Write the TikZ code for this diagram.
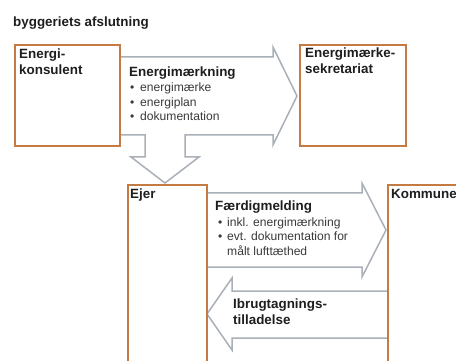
\documentclass[tikz,border=0pt]{standalone}
\usepackage{fontspec}
\setmainfont{Liberation Sans}
\definecolor{boxor}{HTML}{C57A42}
\definecolor{arrgr}{HTML}{A9B0B8}
\definecolor{headtxt}{HTML}{1E1E1E}
\definecolor{itemtxt}{HTML}{3A3A3A}
\begin{document}
\begin{tikzpicture}[x=1pt,y=-1pt,
  box/.style={draw=boxor,line width=2pt,fill=white,anchor=north west,inner sep=0pt},
  blk/.style={draw=arrgr,line width=1.5pt,fill=white,line join=miter},
  head/.style={font=\fontsize{13.4}{16}\bfseries\selectfont,text=headtxt,anchor=base west,inner sep=0pt},
  item/.style={font=\fontsize{12.1}{14}\selectfont,text=itemtxt,anchor=base west,inner sep=0pt}]
\useasboundingbox (0,0) rectangle (456,361);
\begin{scope}
\clip (0,0) rectangle (456,361);
% block arrows
\draw[blk] (119,57) -- (273,57) -- (273,47) -- (297,96) -- (273,145) -- (273,135)
  -- (185,135) -- (185,157) -- (199,157) -- (165,183) -- (131,157) -- (145,157)
  -- (145,135) -- (119,135);
\draw[blk] (206,193) -- (362,193) -- (362,183) -- (386,230) -- (362,277) -- (362,267) -- (206,267);
\draw[blk] (387,291) -- (232,291) -- (232,278) -- (207,314) -- (232,350) -- (232,338) -- (387,338);
% boxes
\node[box,minimum width=105pt,minimum height=101pt] (ek) at (14,44) {};
\node[box,minimum width=106pt,minimum height=101pt] (es) at (299,44) {};
\node[box,minimum width=79pt,minimum height=200pt] (ejer) at (127,184) {};
\node[box,minimum width=100pt,minimum height=200pt] (kom) at (387,184) {};
\end{scope}
% texts
\node[head] (title) at (13,27) {byggeriets afslutning};
\node[head] (ek1) at (19,59) {Energi-};
\node[head] (ek2) at (19,75) {konsulent};
\node[head] (es1) at (305,58) {Energimærke-};
\node[head] (es2) at (305,74) {sekretariat};
\node[head] (em) at (129,77) {Energimærkning};
\node[item] (em1) at (130,92) {\makebox[10pt][l]{•}energimærke};
\node[item] (em2) at (130,106.5) {\makebox[10pt][l]{•}energiplan};
\node[item] (em3) at (130,121) {\makebox[10pt][l]{•}dokumentation};
\node[head] (ejt) at (130,198) {Ejer};
\node[head] (komt) at (391,199) {Kommune};
\node[head] (fm) at (215,211) {Færdigmelding};
\node[item] (fm1) at (218,226) {\makebox[9pt][l]{•}inkl. energimærkning};
\node[item] (fm2) at (218,240.5) {\makebox[9pt][l]{•}evt. dokumentation for};
\node[item] (fm3) at (227,255) {målt lufttæthed};
\node[head] (ib1) at (233,308) {Ibrugtagnings-};
\node[head] (ib2) at (233,324) {tilladelse};
\end{tikzpicture}
\end{document}
